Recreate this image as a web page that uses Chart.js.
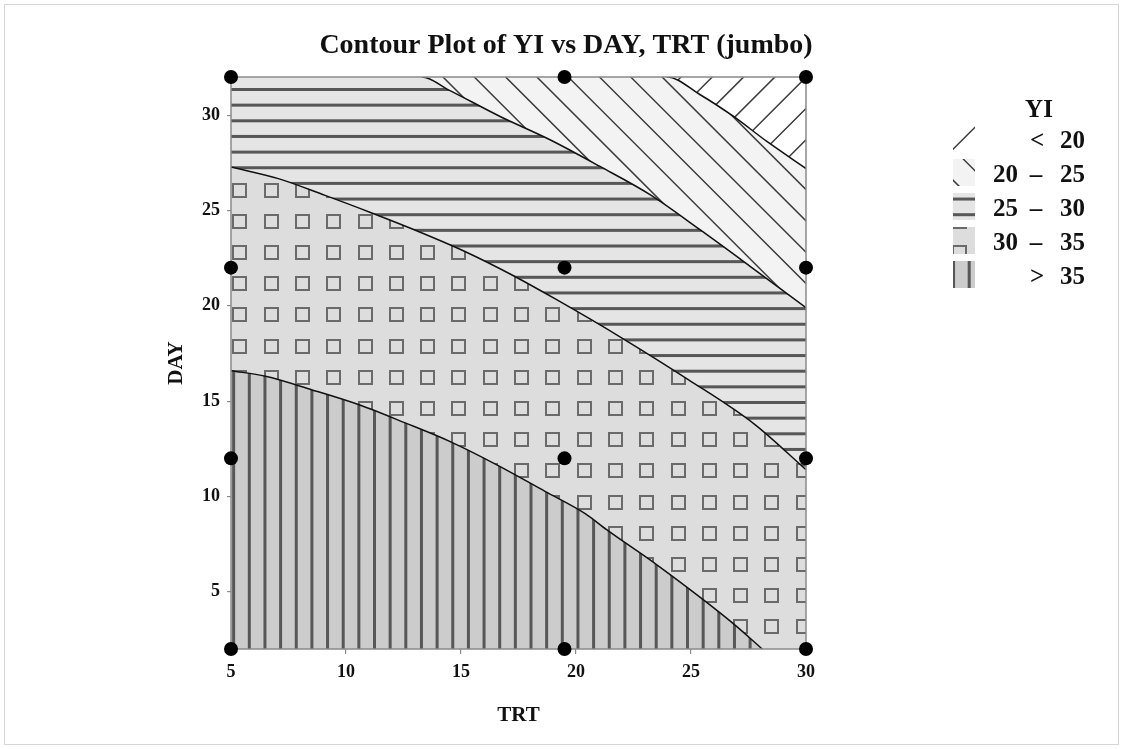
<!DOCTYPE html>
<html>
<head>
<meta charset="utf-8">
<title>Contour Plot of YI vs DAY, TRT (jumbo)</title>
<script src="https://cdn.jsdelivr.net/npm/chart.js@4.4.1/dist/chart.umd.min.js"></script>
<style>
  html, body { margin: 0; padding: 0; background: #fff; }
  #wrap { width: 1123px; height: 749px; position: relative; }
</style>
</head>
<body>
<div id="wrap"><canvas id="contour" width="1123" height="749"></canvas></div>
<script>
// design runs
var trtLevels = [5, 19.5, 30];
var dayLevels = [2, 12, 22, 32];
var trtTicks = [5, 10, 15, 20, 25, 30];
var dayTicks = [5, 10, 15, 20, 25, 30];
var yiBreaks = [20, 25, 30, 35];

// contour lines of YI, [TRT, DAY]
var yi20 = [[5, 32], [23.95, 32], [25.4, 31.07], [26.85, 29.93], [28.3, 28.62], [30, 27.2]];
var yi25 = [[5, 32], [13.3, 32], [14.5, 31.3], [16.7, 29.93], [18.87, 28.71], [21.04, 27.31],
            [23.22, 25.83], [25.39, 23.99], [27.57, 22.07], [30, 19.9]];
var yi30 = [[5, 27.28], [7.06, 26.67], [9.09, 25.79], [11.12, 24.87], [13.15, 23.9], [15.17, 22.85],
            [17.2, 21.63], [19.1, 20.36], [22, 18.31], [24.88, 16.13], [27.78, 13.77], [30, 11.4]];
var yi35 = [[5, 16.6], [6.5, 16.3], [8.5, 15.6], [10.54, 14.82], [12.57, 13.86], [14.6, 12.84],
            [16.62, 11.62], [18.65, 10.27], [20.4, 9.1], [21.33, 8.26], [23.5, 6.43], [25.53, 4.59],
            [26.84, 3.33], [28.1, 2]];
var yiTop = [[5, 32], [30, 32]];

var serif = '"Liberation Serif", "Times New Roman", serif';

// hatch period is 15.65px; tiles hold whole periods so the repeat has no seams
var HP = 15.65, DP = 31.3, TILE = 313;

function makePattern(w, h, bg, draw) {
  var tile = document.createElement('canvas');
  tile.width = w;
  tile.height = h;
  var c = tile.getContext('2d');
  c.fillStyle = bg;
  c.fillRect(0, 0, w, h);
  draw(c);
  return c.createPattern(tile, 'repeat');
}

var fillLow = makePattern(TILE, TILE, '#ffffff', function (c) {   // < 20, "/"
  c.strokeStyle = '#3c3c3c'; c.lineWidth = 1.5;
  c.beginPath();
  for (var k = 0; k <= 20; k++) {
    var s = 6.8 + k * DP;
    c.moveTo(s + 5, -5); c.lineTo(-5, s + 5);
  }
  c.stroke();
});

var fill2025 = makePattern(TILE, TILE, '#f3f3f3', function (c) {  // "\"
  c.strokeStyle = '#3c3c3c'; c.lineWidth = 1.5;
  c.beginPath();
  for (var k = -11; k <= 10; k++) {
    var d = 21.7 + k * DP;
    c.moveTo(-5, -5 - d); c.lineTo(TILE + 5, TILE + 5 - d);
  }
  c.stroke();
});

var fill2530 = makePattern(16, TILE, '#e5e5e5', function (c) {
  c.fillStyle = '#575757';
  for (var k = -1; k <= 20; k++) {
    c.fillRect(0, 11.25 + k * HP - 1.5, 16, 3);
  }
});

var fill3035 = makePattern(TILE, 312, '#dddddd', function (c) {
  c.strokeStyle = '#6a6a6a'; c.lineWidth = 2;
  for (var i = -1; i <= 9; i++) {
    for (var j = -1; j <= 9; j++) {
      c.strokeRect(Math.round(13.2 + i * DP) + 1, Math.round(26.6 + j * 31.2) + 1, 13, 13);
    }
  }
});

var fillHigh = makePattern(TILE, 16, '#cccccc', function (c) {   // > 35
  c.fillStyle = '#575757';
  for (var k = -1; k <= 20; k++) {
    c.fillRect(14.55 + k * HP - 1.5, 0, 3, 16);
  }
});

var bandFills = [fillLow, fill2025, fill2530, fill3035, fillHigh];

function toXY(pts) {
  return pts.map(function (p) { return { x: p[0], y: p[1] }; });
}

// area under a contour; lower index paints on top
function band(pts, pattern) {
  return {
    data: toXY(pts),
    fill: 'start',
    backgroundColor: pattern,
    borderWidth: 0,
    pointRadius: 0,
    cubicInterpolationMode: 'monotone'
  };
}

// the contour itself, hidden where it runs along the top edge
function contour(pts) {
  return {
    data: toXY(pts),
    fill: false,
    borderColor: '#111',
    borderWidth: 1.5,
    pointRadius: 0,
    cubicInterpolationMode: 'monotone',
    segment: {
      borderColor: function (ctx) {
        return (ctx.p0.parsed.y >= 32 && ctx.p1.parsed.y >= 32) ? 'rgba(0,0,0,0)' : undefined;
      }
    }
  };
}

var runs = [];
trtLevels.forEach(function (t) {
  dayLevels.forEach(function (d) { runs.push({ x: t, y: d }); });
});

var datasets = [
  { data: runs, showLine: false, pointRadius: 7, pointHoverRadius: 7, backgroundColor: '#000',
    borderWidth: 0, clip: false },
  contour(yi35),
  contour(yi30),
  contour(yi25),
  contour(yi20),
  band(yi35, fillHigh),
  band(yi30, fill3035),
  band(yi25, fill2530),
  band(yi20, fill2025),
  band(yiTop, fillLow)
];

var framePlugin = {
  id: 'frame',
  beforeDatasetDraw: function (chart, args) {
    if (args.index !== 0) return;
    var a = chart.chartArea, c = chart.ctx;
    c.save();
    c.strokeStyle = '#8a8a8a';
    c.lineWidth = 1.5;
    c.strokeRect(a.left, a.top, a.right - a.left, a.bottom - a.top);
    c.restore();
  }
};

var decorPlugin = {
  id: 'decor',
  afterDraw: function (chart) {
    var c = chart.ctx;
    c.save();
    // outer frame of the graph window
    c.strokeStyle = '#d6d6d6';
    c.lineWidth = 1;
    c.strokeRect(4.5, 4.5, 1114, 740);

    c.fillStyle = '#111';
    c.font = 'bold 28px ' + serif;
    c.textAlign = 'center';
    c.textBaseline = 'alphabetic';
    c.fillText('Contour Plot of YI vs DAY, TRT (jumbo)', 566, 53);

    // legend
    c.font = 'bold 25px ' + serif;
    c.textBaseline = 'middle';
    c.fillText('YI', 1039, 111);
    for (var i = 0; i <= yiBreaks.length; i++) {
      var cy = 142 + i * 34;
      c.fillStyle = bandFills[i];
      c.fillRect(953, cy - 17, 22, 27);
      c.fillStyle = '#111';
      if (i === 0) {
        c.textAlign = 'center'; c.fillText('<', 1037, cy);
        c.textAlign = 'left'; c.fillText(String(yiBreaks[0]), 1060, cy);
      } else if (i === yiBreaks.length) {
        c.textAlign = 'center'; c.fillText('>', 1037, cy);
        c.textAlign = 'left'; c.fillText(String(yiBreaks[i - 1]), 1060, cy);
      } else {
        c.textAlign = 'right'; c.fillText(String(yiBreaks[i - 1]), 1018, cy);
        c.textAlign = 'center'; c.fillText('\u2013', 1036, cy);
        c.textAlign = 'left'; c.fillText(String(yiBreaks[i]), 1060, cy);
      }
    }
    c.restore();
  }
};

function tickFont() { return { family: serif, size: 18, weight: 'bold' }; }
function titleFont() { return { family: serif, size: 21, weight: 'bold' }; }

new Chart(document.getElementById('contour').getContext('2d'), {
  type: 'line',
  data: { datasets: datasets },
  options: {
    responsive: false,
    animation: false,
    devicePixelRatio: 1,
    layout: { padding: { left: 0, top: 77, right: 317, bottom: 0 } },
    plugins: {
      legend: { display: false },
      tooltip: { enabled: false },
      title: { display: false }
    },
    scales: {
      x: {
        type: 'linear', min: 5, max: 30,
        afterBuildTicks: function (s) { s.ticks = trtTicks.map(function (v) { return { value: v }; }); },
        afterFit: function (s) { s.height = 100; },
        grid: { drawOnChartArea: false, drawTicks: true, tickLength: 5, color: '#8a8a8a', lineWidth: 1.2 },
        border: { display: false },
        ticks: { font: tickFont(), color: '#111', padding: 8, maxRotation: 0, autoSkip: false },
        title: { display: true, text: 'TRT', font: titleFont(), color: '#111', padding: { top: 0, bottom: 21 } }
      },
      y: {
        type: 'linear', min: 2, max: 32,
        afterBuildTicks: function (s) { s.ticks = dayTicks.map(function (v) { return { value: v }; }); },
        afterFit: function (s) { s.width = 231; },
        grid: { drawOnChartArea: false, drawTicks: true, tickLength: 4, color: '#8a8a8a', lineWidth: 1.2 },
        border: { display: false },
        ticks: { font: tickFont(), color: '#111', padding: 7, autoSkip: false },
        title: { display: true, text: 'DAY', font: titleFont(), color: '#111', padding: { top: 164, bottom: 0 } }
      }
    }
  },
  plugins: [framePlugin, decorPlugin]
});
</script>
</body>
</html>
